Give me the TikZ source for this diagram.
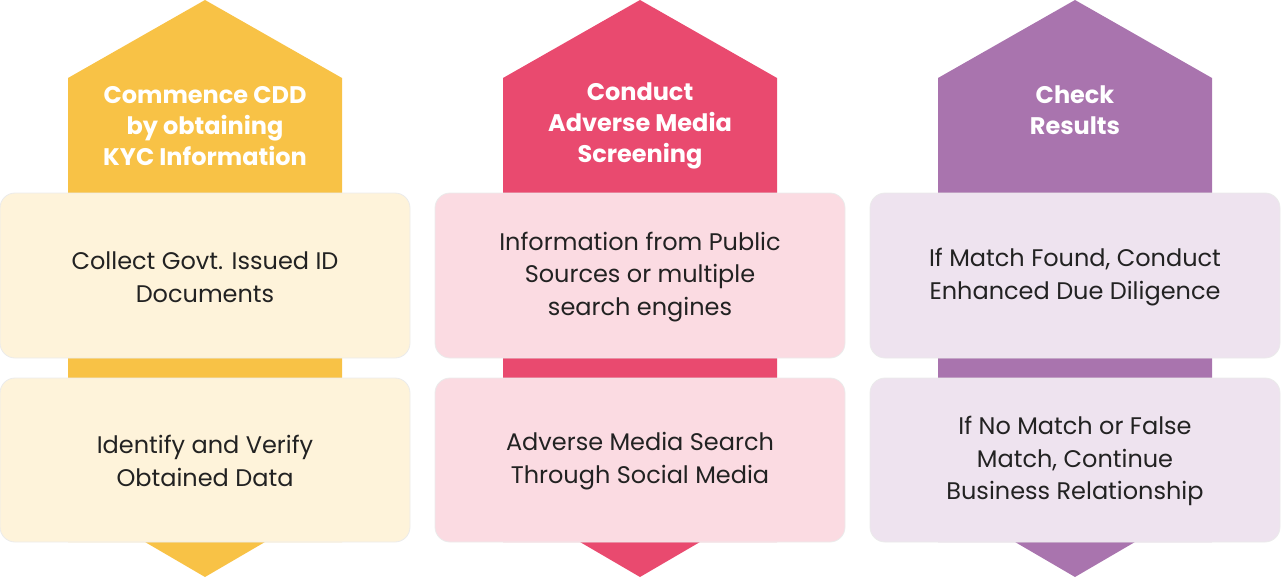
\documentclass[tikz,border=0pt]{standalone}
\usepackage{fontspec}
\setmainfont{Poppins}
\usepackage{tikz}
\definecolor{goldband}{HTML}{F8C246}
\definecolor{goldbox}{HTML}{FDF0D2}
\definecolor{roseband}{HTML}{E94A6F}
\definecolor{rosebox}{HTML}{F9D3DC}
\definecolor{plumband}{HTML}{A974AE}
\definecolor{plumbox}{HTML}{EADCEB}
\definecolor{bodytext}{HTML}{222222}
\tikzset{
  title/.style={text=white, font=\fontsize{24}{31}\selectfont\bfseries, align=center},
  body/.style={text=bodytext, font=\fontsize{24}{32.5}\selectfont, align=center},
  card/.style={rounded corners=15pt, draw=black!8, line width=0.8pt}
}
\begin{document}
\begin{tikzpicture}[x=1pt, y=-1pt]
\useasboundingbox (0,0) rectangle (1281,578);

% draw bands with arrow heads
\foreach \cx/\band in {205/goldband, 640/roseband, 1075/plumband} {
  \fill[\band] (\cx, 0) -- (\cx+137, 78) -- (\cx+137, 542) -- (\cx+60, 542)
               -- (\cx, 577) -- (\cx-60, 542) -- (\cx-137, 542) -- (\cx-137, 78) -- cycle;
  \filldraw[card, fill=\band!20] (\cx-205, 193) rectangle (\cx+205, 358);
  \filldraw[card, fill=\band!20] (\cx-205, 378) rectangle (\cx+205, 542);
}

% draw titles
\node[title] (kyc) at (205, 126) {Commence CDD\\by obtaining\\KYC Information};
\node[title] (media) at (640, 126) {Conduct\\Adverse Media\\Screening};
\node[title] (check) at (1075, 110) {Check\\Results};

% draw card texts
\node[body] (govt) at (205, 277) {Collect Govt. Issued ID\\Documents};
\node[body] (verify) at (205, 461) {Identify and Verify\\Obtained Data};
\node[body] (public) at (640, 277) {Information from Public\\Sources or multiple\\search engines};
\node[body] (social) at (640, 461) {Adverse Media Search\\Through Social Media};
\node[body] (found) at (1075, 277) {If Match Found, Conduct\\Enhanced Due Diligence};
\node[body] (nomatch) at (1075, 461) {If No Match or False\\Match, Continue\\Business Relationship};

\end{tikzpicture}
\end{document}
